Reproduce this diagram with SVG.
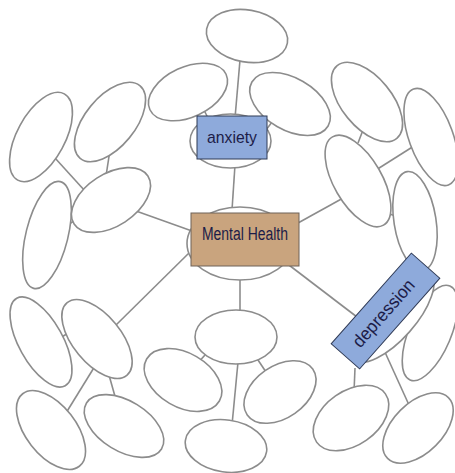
<svg xmlns="http://www.w3.org/2000/svg" width="455" height="473" viewBox="0 0 455 473">
<style>
.e{fill:#fff;stroke:#8c8c8c;stroke-width:1.6}
.c line{stroke:#8c8c8c;stroke-width:1.6}
.blue{fill:#8eaadb;stroke:#2f3a55;stroke-width:1}
.tan{fill:#c9a47e;stroke:#6e6258;stroke-width:1}
.t{font-family:"Liberation Sans",Arial,sans-serif;font-size:17px;fill:#1c1c48;text-anchor:middle}
</style>
<rect width="455" height="473" fill="#fff"/>
<g id="connectors" class="c">
<line x1="240" y1="60" x2="235" y2="118"/>
<line x1="203" y1="108" x2="209" y2="120"/>
<line x1="272" y1="122" x2="266" y2="130"/>
<line x1="235" y1="165" x2="232" y2="210"/>
<line x1="136" y1="211" x2="192" y2="231"/>
<line x1="298" y1="223" x2="345" y2="197"/>
<line x1="190" y1="252" x2="115" y2="326"/>
<line x1="240" y1="278" x2="240" y2="313"/>
<line x1="285" y1="262" x2="357" y2="317"/>
<line x1="55" y1="158" x2="85" y2="191"/>
<line x1="110" y1="150" x2="106" y2="176"/>
<line x1="66" y1="226" x2="77" y2="219"/>
<line x1="363" y1="130" x2="358" y2="143"/>
<line x1="376" y1="170" x2="414" y2="146"/>
<line x1="383" y1="212" x2="396" y2="216"/>
<line x1="60" y1="338" x2="70" y2="332"/>
<line x1="95" y1="366" x2="66" y2="413"/>
<line x1="109" y1="375" x2="116" y2="400"/>
<line x1="196" y1="365" x2="205" y2="355"/>
<line x1="256" y1="357" x2="268" y2="375"/>
<line x1="238" y1="362" x2="232" y2="425"/>
<line x1="355" y1="368" x2="354" y2="392"/>
<line x1="384" y1="350" x2="409" y2="405"/>
<line x1="401" y1="331" x2="412" y2="327"/>
</g>
<g id="top-cluster">
<ellipse class="e" cx="247" cy="36" rx="41" ry="26" transform="rotate(10 247 36)"/>
<ellipse class="e" cx="188" cy="92" rx="42" ry="25" transform="rotate(-25 188 92)"/>
<ellipse class="e" cx="290" cy="104" rx="44" ry="26" transform="rotate(30 290 104)"/>
</g>
<g id="anxiety">
<ellipse class="e" cx="230.5" cy="141" rx="40.5" ry="27"/>
<rect class="blue" x="197" y="116" width="70" height="43"/>
<text class="t" x="232" y="143" textLength="50" lengthAdjust="spacingAndGlyphs">anxiety</text>
</g>
<g id="upper-left-cluster">
<ellipse class="e" cx="41" cy="137" rx="49" ry="24" transform="rotate(-61.6 41 137)"/>
<ellipse class="e" cx="110" cy="122" rx="47" ry="25" transform="rotate(-50.6 110 122)"/>
<ellipse class="e" cx="47" cy="235" rx="55" ry="21" transform="rotate(-76 47 235)"/>
<ellipse class="e" cx="111" cy="200" rx="44" ry="26" transform="rotate(-33 111 200)"/>
</g>
<g id="upper-right-cluster">
<ellipse class="e" cx="367" cy="102" rx="47" ry="25" transform="rotate(50.6 367 102)"/>
<ellipse class="e" cx="431" cy="137" rx="51" ry="22" transform="rotate(70 431 137)"/>
<ellipse class="e" cx="415" cy="221" rx="50" ry="21" transform="rotate(81 415 221)"/>
<ellipse class="e" cx="358" cy="181" rx="51" ry="24" transform="rotate(60 358 181)"/>
</g>
<g id="mental-health">
<ellipse class="e" cx="240" cy="243.5" rx="53" ry="36.5"/>
<rect class="tan" x="191" y="213" width="108" height="53"/>
<text class="t" x="245" y="240" style="font-size:18px" textLength="86" lengthAdjust="spacingAndGlyphs">Mental Health</text>
</g>
<g id="lower-left-cluster">
<ellipse class="e" cx="41" cy="342" rx="50" ry="22" transform="rotate(61 41 342)"/>
<ellipse class="e" cx="51" cy="430" rx="46" ry="25" transform="rotate(52 51 430)"/>
<ellipse class="e" cx="124" cy="426" rx="44" ry="25" transform="rotate(31.5 124 426)"/>
<ellipse class="e" cx="97" cy="339" rx="47" ry="24" transform="rotate(50.6 97 339)"/>
</g>
<g id="bottom-cluster">
<ellipse class="e" cx="236" cy="337" rx="41" ry="27"/>
<ellipse class="e" cx="183" cy="380" rx="42" ry="27" transform="rotate(30 183 380)"/>
<ellipse class="e" cx="280" cy="392" rx="40" ry="26" transform="rotate(-35 280 392)"/>
<ellipse class="e" cx="226" cy="446" rx="41" ry="26" transform="rotate(8 226 446)"/>
</g>
<g id="depression-cluster">
<ellipse class="e" cx="430" cy="333" rx="51" ry="21" transform="rotate(-67 430 333)"/>
<ellipse class="e" cx="351" cy="418" rx="42" ry="27" transform="rotate(-35 351 418)"/>
<ellipse class="e" cx="418" cy="428" rx="43" ry="25" transform="rotate(-45 418 428)"/>
</g>
<g id="depression">
<ellipse class="e" cx="391.5" cy="316" rx="58" ry="24" transform="rotate(-48.5 391.5 316)"/>
<g transform="translate(385.5 311) rotate(-48.5)">
<rect class="blue" x="-60.5" y="-19" width="121" height="38"/>
<text class="t" x="-3" y="6" style="font-size:18px" textLength="84" lengthAdjust="spacingAndGlyphs">depression</text>
</g>
</g>
</svg>
